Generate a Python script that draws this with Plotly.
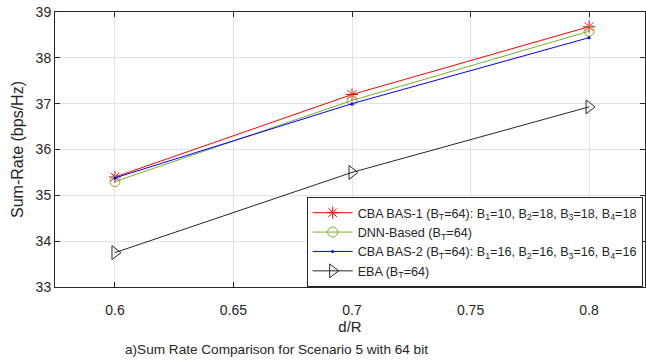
import plotly.graph_objects as go

x = [0.6, 0.7, 0.8]
cba1 = [35.40, 37.20, 38.68]
dnn = [35.30, 37.07, 38.58]
cba2 = [35.38, 37.00, 38.44]
eba = [33.75, 35.50, 36.93]
xticks = [0.6, 0.65, 0.7, 0.75, 0.8]
xticklabels = ["0.6", "0.65", "0.7", "0.75", "0.8"]
yticks = [33, 34, 35, 36, 37, 38, 39]

names = [
    "CBA BAS-1 (B<sub>T</sub>=64): B<sub>1</sub>=10, B<sub>2</sub>=18, B<sub>3</sub>=18, B<sub>4</sub>=18",
    "DNN-Based (B<sub>T</sub>=64)",
    "CBA BAS-2 (B<sub>T</sub>=64): B<sub>1</sub>=16, B<sub>2</sub>=16, B<sub>3</sub>=16, B<sub>4</sub>=16",
    "EBA (B<sub>T</sub>=64)",
]

fig = go.Figure()
fig.add_trace(go.Scatter(x=x, y=cba1, name=names[0], mode="lines+markers",
                         line=dict(color="#ff0000", width=1),
                         marker=dict(symbol="asterisk-open", size=10, color="#ff0000",
                                     line=dict(color="#ff0000", width=1))))
fig.add_trace(go.Scatter(x=x, y=dnn, name=names[1], mode="lines+markers",
                         line=dict(color="#77ac30", width=1),
                         marker=dict(symbol="circle-open", size=10, color="#77ac30",
                                     line=dict(color="#77ac30", width=1))))
fig.add_trace(go.Scatter(x=x, y=cba2, name=names[2], mode="lines+markers",
                         line=dict(color="#0000ff", width=1),
                         marker=dict(symbol="circle", size=3, color="#0000ff")))
fig.add_trace(go.Scatter(x=x, y=eba, name=names[3], mode="lines+markers",
                         line=dict(color="#262626", width=1),
                         marker=dict(symbol="triangle-right-open", size=12, color="#262626",
                                     line=dict(color="#262626", width=1))))

fig.update_layout(
    width=646, height=363,
    margin=dict(l=55, r=1, t=12, b=76),
    paper_bgcolor="white", plot_bgcolor="white",
    font=dict(family="Liberation Sans, Arial, sans-serif", size=14, color="#262626"),
    legend=dict(x=0.996, y=0.0, xanchor="right", yanchor="bottom",
                bgcolor="white", bordercolor="#262626", borderwidth=1,
                font=dict(size=12.6), tracegroupgap=0, itemwidth=40),
    xaxis=dict(range=[0.5747, 0.8236], tickvals=xticks, ticktext=xticklabels,
               showgrid=True, gridcolor="#e3e3e3", zeroline=False,
               showline=True, linecolor="#262626", linewidth=1, mirror="ticks",
               ticks="inside", ticklen=5, tickcolor="#262626",
               tickfont=dict(size=14), ticklabelstandoff=10,
               title=dict(text="d/R", standoff=3, font=dict(size=15))),
    yaxis=dict(range=[33, 39], tickvals=yticks,
               showgrid=True, gridcolor="#e3e3e3", zeroline=False,
               showline=True, linecolor="#262626", linewidth=1, mirror="ticks",
               ticks="inside", ticklen=5, tickcolor="#262626",
               tickfont=dict(size=14),
               title=dict(text="Sum-Rate (bps/Hz)", standoff=8, font=dict(size=16))),
    annotations=[dict(text="a)Sum Rate Comparison for Scenario 5 with 64 bit",
                      xref="paper", yref="paper", x=0.376, y=-0.228,
                      xanchor="center", yanchor="middle", showarrow=False,
                      font=dict(size=13.6, color="#262626"))],
)

fig.write_html("out.html")
